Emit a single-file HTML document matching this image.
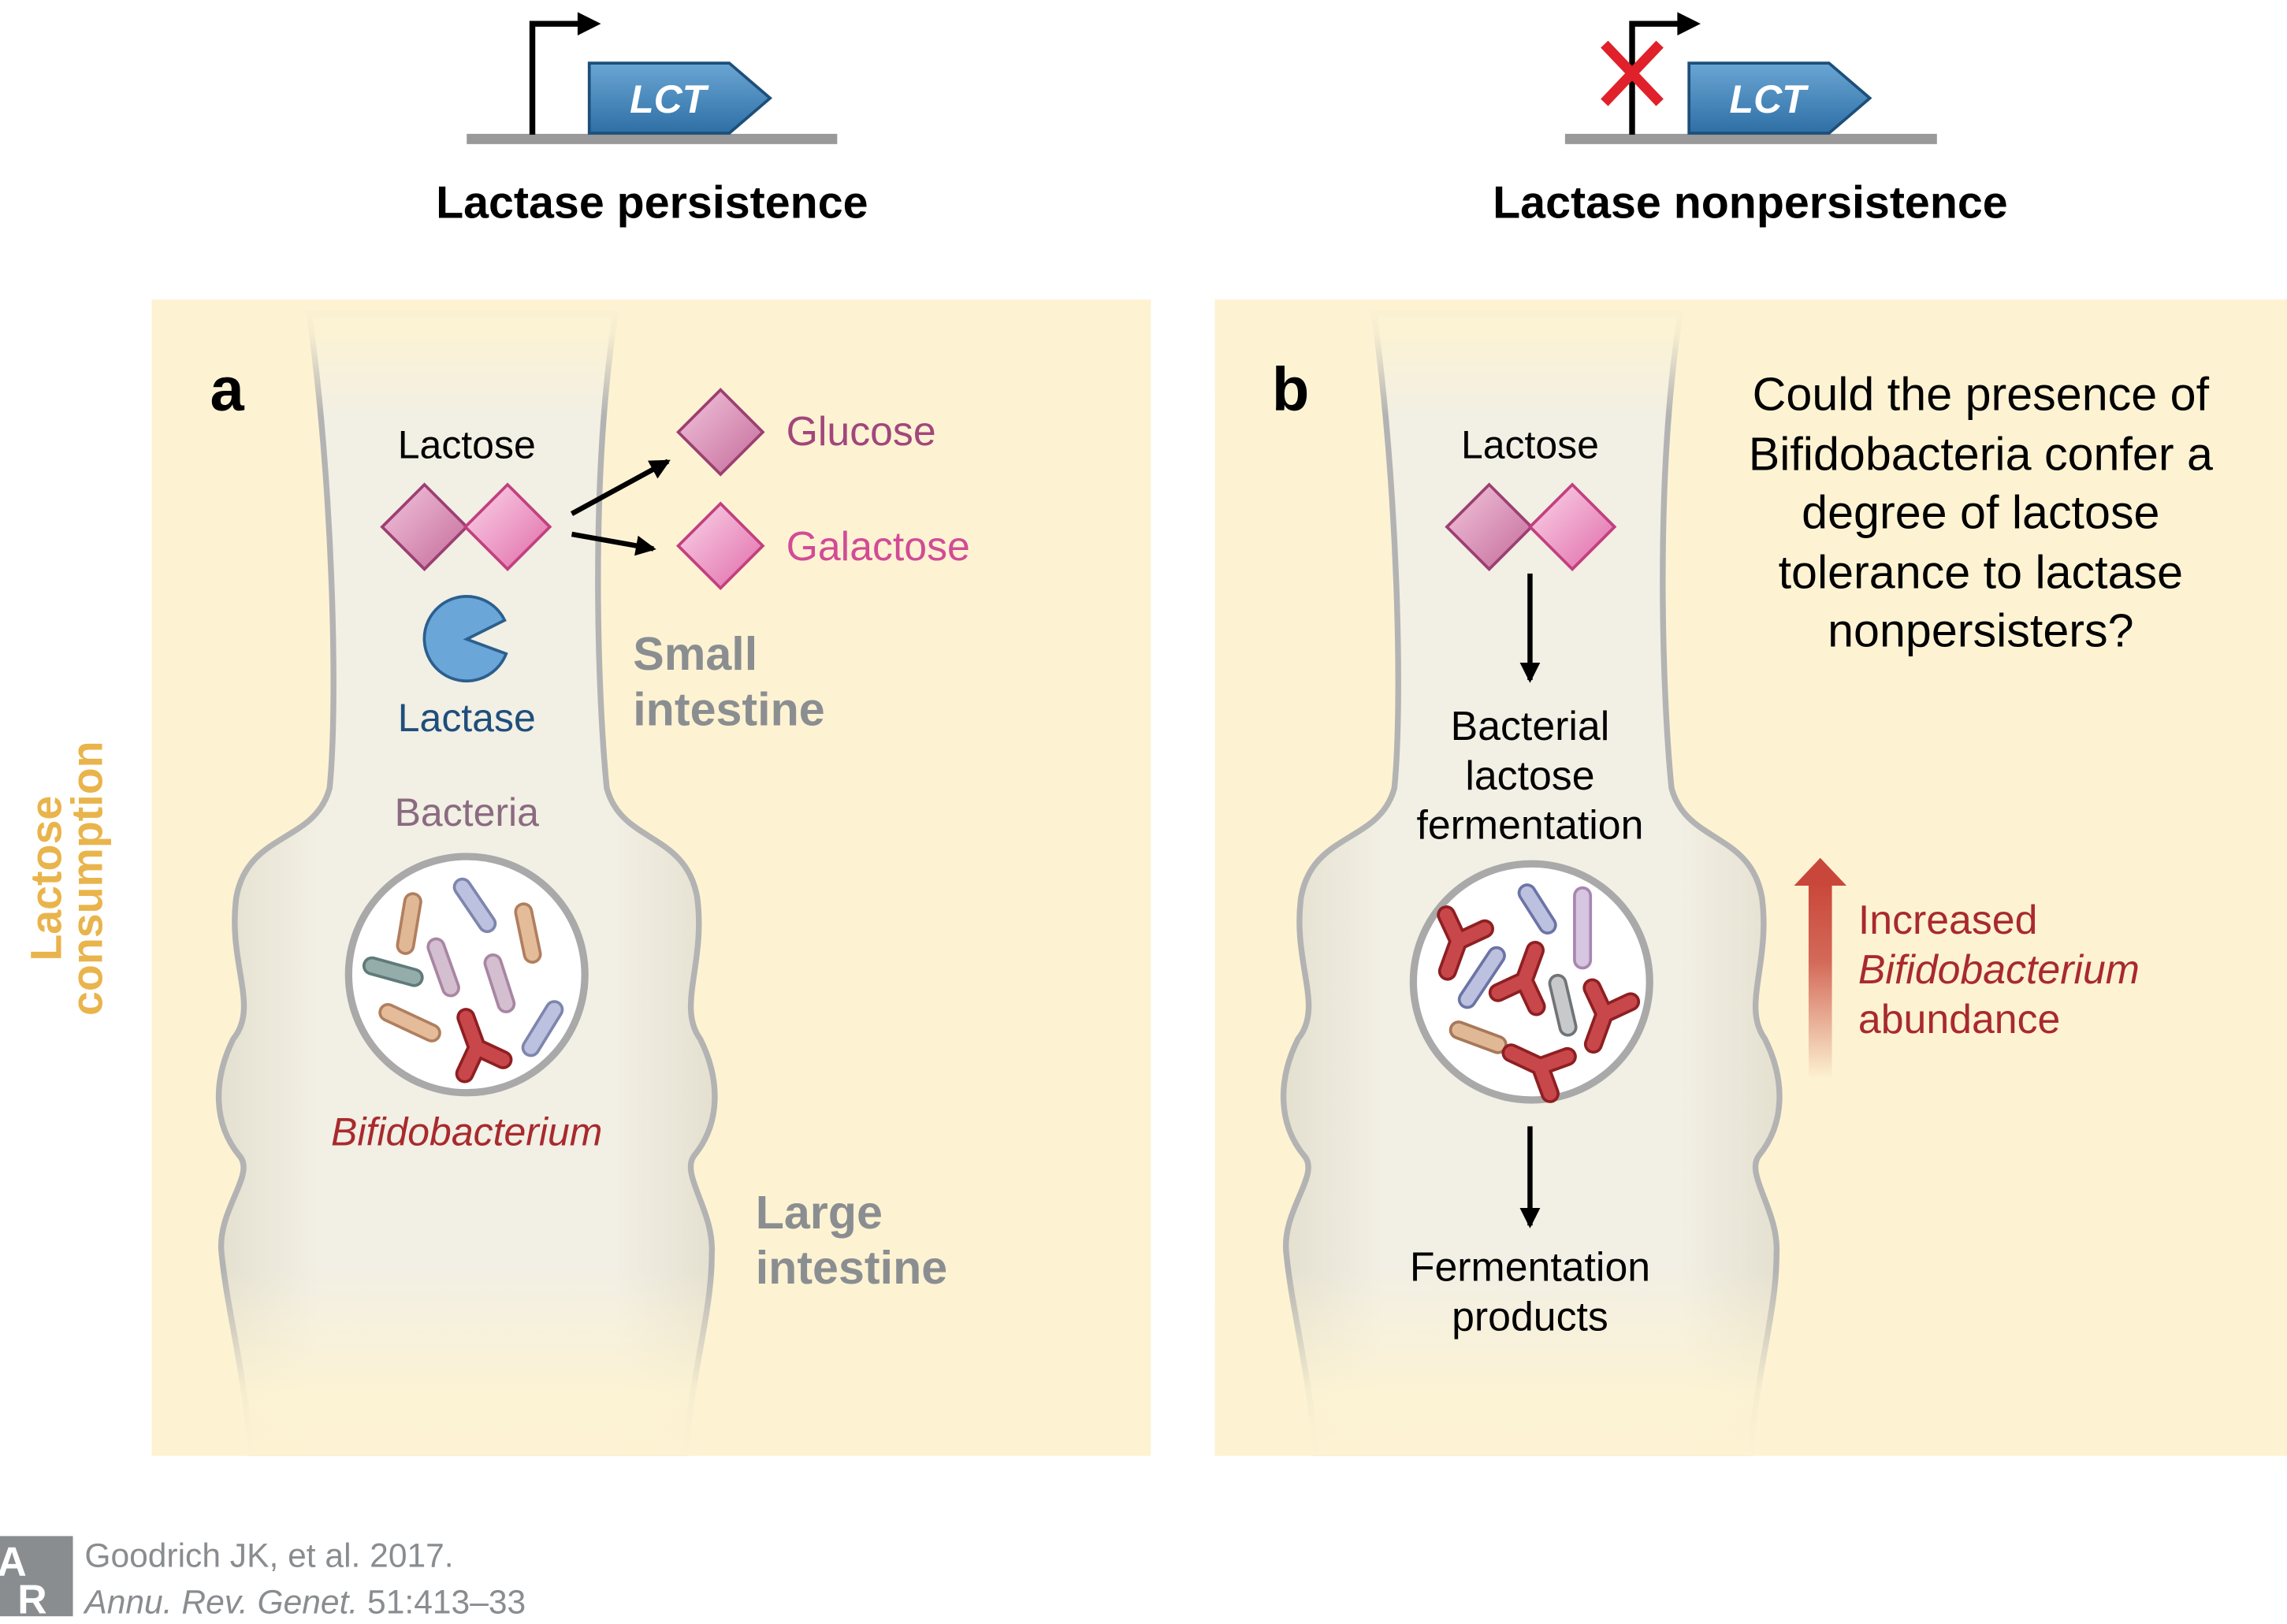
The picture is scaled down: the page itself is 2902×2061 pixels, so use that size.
<!DOCTYPE html>
<html><head><meta charset="utf-8"><style>
html,body{margin:0;padding:0;background:#fff;}
svg{display:block;}
text{font-family:"Liberation Sans",sans-serif;}
</style></head><body>
<svg width="2902" height="2061" viewBox="0 0 1568 1113" xmlns="http://www.w3.org/2000/svg">
<defs>
<linearGradient id="lct" x1="0" y1="0" x2="0" y2="1"><stop offset="0" stop-color="#6aa6d4"/><stop offset="1" stop-color="#2e6fa5"/></linearGradient>
<linearGradient id="red" x1="0" y1="1" x2="0" y2="0"><stop offset="0" stop-color="#c9473a" stop-opacity="0"/><stop offset="0.6" stop-color="#c9473a" stop-opacity="0.8"/><stop offset="1" stop-color="#c9473a"/></linearGradient>
<linearGradient id="tube" x1="0" y1="0" x2="1" y2="0"><stop offset="0" stop-color="#e4e0d0"/><stop offset="0.2" stop-color="#f2efe4"/><stop offset="0.8" stop-color="#f2efe4"/><stop offset="1" stop-color="#e4e0d0"/></linearGradient>
<linearGradient id="fade" x1="0" y1="0" x2="0" y2="1"><stop offset="0" stop-color="#fdf3d3" stop-opacity="1"/><stop offset="0.3" stop-color="#fdf3d3" stop-opacity="0.9"/><stop offset="1" stop-color="#fdf3d3" stop-opacity="0"/></linearGradient>
<linearGradient id="fadeb" x1="0" y1="1" x2="0" y2="0"><stop offset="0" stop-color="#fdf3d3" stop-opacity="1"/><stop offset="0.35" stop-color="#fdf3d3" stop-opacity="0.9"/><stop offset="1" stop-color="#fdf3d3" stop-opacity="0"/></linearGradient>
<linearGradient id="dia" x1="0" y1="0" x2="1" y2="1"><stop offset="0" stop-color="#f3c6dc"/><stop offset="1" stop-color="#c46a9a"/></linearGradient>
<linearGradient id="dia2" x1="0" y1="0" x2="1" y2="1"><stop offset="0" stop-color="#fbd6ea"/><stop offset="1" stop-color="#e06aa8"/></linearGradient>
<marker id="ah" markerWidth="16" markerHeight="16" refX="12" refY="7" orient="auto" markerUnits="userSpaceOnUse"><path d="M0,0 L14,7 L0,14 Z" fill="#000"/></marker>
<path id="gut" d="M212,215 C228,330 232,480 226,540 C216,578 170,570 162,615 C156,660 178,690 160,712 C146,740 146,770 164,792 C176,805 148,830 152,860 C156,900 168,940 172,1000 L470,1000 C474,940 488,900 488,860 C490,830 466,805 476,792 C494,770 494,740 480,712 C464,690 484,660 478,615 C470,570 426,578 416,540 C410,480 404,330 422,215 Z"/>
<g id="dm"><path d="M0,-29 L29,0 L0,29 L-29,0 Z" fill="url(#dia)" stroke="#9c3f72" stroke-width="2"/></g>
<g id="dm2"><path d="M0,-29 L29,0 L0,29 L-29,0 Z" fill="url(#dia2)" stroke="#c2407f" stroke-width="2"/></g>
<g id="yb"><path d="M0,0 L0,-22 M0,0 L-14,14 M0,0 L14,14" stroke="#8e1f22" stroke-width="13" stroke-linecap="round" fill="none"/><path d="M0,0 L0,-22 M0,0 L-14,14 M0,0 L14,14" stroke="#c8474a" stroke-width="9" stroke-linecap="round" fill="none"/></g>
<clipPath id="cpa"><rect x="104" y="205" width="685" height="793"/></clipPath>
<clipPath id="cpb"><rect x="833" y="205" width="735" height="793"/></clipPath>
</defs>

<line x1="320" y1="95" x2="574" y2="95" stroke="#999" stroke-width="7"/>
<path d="M365,92 L365,16 L398,16" stroke="#000" stroke-width="4" fill="none"/><path d="M396,8 L412,16 L396,24 Z" fill="#000"/>
<path d="M404,43 L500,43 L528,67 L500,91 L404,91 Z" fill="url(#lct)" stroke="#1d4f7a" stroke-width="2"/>
<text x="458" y="77" font-size="27" font-weight="bold" font-style="italic" fill="#fff" text-anchor="middle">LCT</text>
<text x="447" y="149" font-size="31" font-weight="bold" text-anchor="middle">Lactase persistence</text>

<line x1="1073" y1="95" x2="1328" y2="95" stroke="#999" stroke-width="7"/>
<path d="M1119,92 L1119,16 L1152,16" stroke="#000" stroke-width="4" fill="none"/><path d="M1150,8 L1166,16 L1150,24 Z" fill="#000"/>
<path d="M1158,43 L1254,43 L1282,67 L1254,91 L1158,91 Z" fill="url(#lct)" stroke="#1d4f7a" stroke-width="2"/>
<text x="1212" y="77" font-size="27" font-weight="bold" font-style="italic" fill="#fff" text-anchor="middle">LCT</text>
<path d="M1100,30 L1138,70 M1138,30 L1100,70" stroke="#e0202a" stroke-width="7"/>
<text x="1200" y="149" font-size="31" font-weight="bold" text-anchor="middle">Lactase nonpersistence</text>

<rect x="104" y="205" width="685" height="793" fill="#fdf3d3"/>
<rect x="833" y="205" width="735" height="793" fill="#fdf3d3"/>

<text transform="translate(42,602) rotate(-90)" font-size="30" font-weight="bold" fill="#e9b44c" text-anchor="middle">Lactose</text>
<text transform="translate(70,602) rotate(-90)" font-size="30" font-weight="bold" fill="#e9b44c" text-anchor="middle">consumption</text>

<g clip-path="url(#cpa)"><use href="#gut" fill="url(#tube)" stroke="#b3b3b3" stroke-width="4"/></g>
<g clip-path="url(#cpb)"><use href="#gut" transform="translate(730,0)" fill="url(#tube)" stroke="#b3b3b3" stroke-width="4"/></g>
<rect x="104" y="870" width="685" height="128" fill="url(#fadeb)"/>
<rect x="833" y="870" width="735" height="128" fill="url(#fadeb)"/>
<rect x="104" y="205" width="685" height="80" fill="url(#fade)"/>
<rect x="833" y="205" width="735" height="80" fill="url(#fade)"/>

<text x="144" y="281" font-size="42" font-weight="bold">a</text>
<text x="872" y="281" font-size="42" font-weight="bold">b</text>

<text x="320" y="314" font-size="27" text-anchor="middle">Lactose</text>
<use href="#dm" x="291" y="361"/><use href="#dm2" x="348" y="361"/>
<line x1="392" y1="352" x2="458" y2="316" stroke="#000" stroke-width="3.5" marker-end="url(#ah)"/>
<line x1="392" y1="366" x2="448" y2="376" stroke="#000" stroke-width="3.5" marker-end="url(#ah)"/>
<use href="#dm" x="494" y="296"/><use href="#dm2" x="494" y="374"/>
<text x="539" y="305" font-size="28" fill="#a2467c">Glucose</text>
<text x="539" y="384" font-size="28" fill="#d24b96">Galactose</text>
<path d="M320,438 L346,425 A29,29 0 1 0 347,448 Z" fill="#6aa6d8" stroke="#2b5f8e" stroke-width="2"/>
<text x="320" y="501" font-size="27" fill="#1e4e7c" text-anchor="middle">Lactase</text>
<text x="434" y="459" font-size="32" font-weight="bold" fill="#8b8e91">Small</text>
<text x="434" y="497" font-size="32" font-weight="bold" fill="#8b8e91">intestine</text>
<text x="320" y="566" font-size="27" fill="#8a6b80" text-anchor="middle">Bacteria</text>
<circle cx="320" cy="668" r="81" fill="#fff" stroke="#a9a9a9" stroke-width="5"/>
<g stroke-linecap="round">
<line x1="283" y1="618" x2="278" y2="648" stroke="#b07f5f" stroke-width="13"/><line x1="283" y1="618" x2="278" y2="648" stroke="#e1b896" stroke-width="9"/>
<line x1="317" y1="608" x2="334" y2="633" stroke="#7e86ad" stroke-width="13"/><line x1="317" y1="608" x2="334" y2="633" stroke="#bcc1df" stroke-width="9"/>
<line x1="359" y1="625" x2="365" y2="654" stroke="#b07f5f" stroke-width="13"/><line x1="359" y1="625" x2="365" y2="654" stroke="#e4bc99" stroke-width="9"/>
<line x1="255" y1="662" x2="284" y2="670" stroke="#5f7b79" stroke-width="13"/><line x1="255" y1="662" x2="284" y2="670" stroke="#94acaa" stroke-width="9"/>
<line x1="299" y1="649" x2="309" y2="677" stroke="#a886a2" stroke-width="13"/><line x1="299" y1="649" x2="309" y2="677" stroke="#d4bfd0" stroke-width="9"/>
<line x1="338" y1="660" x2="347" y2="688" stroke="#a886a2" stroke-width="13"/><line x1="338" y1="660" x2="347" y2="688" stroke="#d4bfd0" stroke-width="9"/>
<line x1="266" y1="694" x2="296" y2="708" stroke="#b07f5f" stroke-width="13"/><line x1="266" y1="694" x2="296" y2="708" stroke="#e4bc99" stroke-width="9"/>
<line x1="380" y1="692" x2="364" y2="718" stroke="#7e86ad" stroke-width="13"/><line x1="380" y1="692" x2="364" y2="718" stroke="#bcc1df" stroke-width="9"/>
</g>
<use href="#yb" transform="translate(327,718) rotate(-20)"/>
<text x="320" y="785" font-size="27" font-style="italic" fill="#a82a2e" text-anchor="middle">Bifidobacterium</text>
<text x="518" y="842" font-size="32" font-weight="bold" fill="#8b8e91">Large</text>
<text x="518" y="880" font-size="32" font-weight="bold" fill="#8b8e91">intestine</text>

<text x="1049" y="314" font-size="27" text-anchor="middle">Lactose</text>
<use href="#dm" x="1021" y="361"/><use href="#dm2" x="1078" y="361"/>
<line x1="1049" y1="393" x2="1049" y2="466" stroke="#000" stroke-width="3.5" marker-end="url(#ah)"/>
<text x="1049" y="507" font-size="28" text-anchor="middle">Bacterial</text>
<text x="1049" y="541" font-size="28" text-anchor="middle">lactose</text>
<text x="1049" y="575" font-size="28" text-anchor="middle">fermentation</text>
<circle cx="1050" cy="673" r="81" fill="#fff" stroke="#a9a9a9" stroke-width="5"/>
<g stroke-linecap="round">
<line x1="1047" y1="612" x2="1061" y2="634" stroke="#6c74a6" stroke-width="13"/><line x1="1047" y1="612" x2="1061" y2="634" stroke="#bcc1df" stroke-width="9"/>
<line x1="1085" y1="614" x2="1085" y2="658" stroke="#a886b2" stroke-width="13"/><line x1="1085" y1="614" x2="1085" y2="658" stroke="#d6c6df" stroke-width="9"/>
<line x1="1026" y1="655" x2="1006" y2="685" stroke="#6c74a6" stroke-width="13"/><line x1="1026" y1="655" x2="1006" y2="685" stroke="#bcc1df" stroke-width="9"/>
<line x1="1068" y1="674" x2="1075" y2="704" stroke="#707478" stroke-width="13"/><line x1="1068" y1="674" x2="1075" y2="704" stroke="#c7c9cb" stroke-width="9"/>
<line x1="1000" y1="706" x2="1027" y2="716" stroke="#a77859" stroke-width="13"/><line x1="1000" y1="706" x2="1027" y2="716" stroke="#e1b896" stroke-width="9"/>
</g>
<use href="#yb" transform="translate(1000,645) rotate(200)"/>
<use href="#yb" transform="translate(1045,672) rotate(20)"/>
<use href="#yb" transform="translate(1100,695) rotate(200)"/>
<use href="#yb" transform="translate(1056,731) rotate(-65)"/>
<line x1="1049" y1="772" x2="1049" y2="840" stroke="#000" stroke-width="3.5" marker-end="url(#ah)"/>
<text x="1049" y="878" font-size="28" text-anchor="middle">Fermentation</text>
<text x="1049" y="912" font-size="28" text-anchor="middle">products</text>

<g font-size="32" text-anchor="middle">
<text x="1358" y="281">Could the presence of</text>
<text x="1358" y="322">Bifidobacteria confer a</text>
<text x="1358" y="362">degree of lactose</text>
<text x="1358" y="403">tolerance to lactase</text>
<text x="1358" y="443">nonpersisters?</text>
</g>
<rect x="1240" y="605" width="16" height="135" fill="url(#red)"/>
<path d="M1230,607 L1248,588 L1266,607 Z" fill="#c9473a"/>
<text x="1274" y="640" font-size="28" fill="#a82a2e">Increased</text>
<text x="1274" y="674" font-size="28" font-style="italic" fill="#a82a2e">Bifidobacterium</text>
<text x="1274" y="708" font-size="28" fill="#a82a2e">abundance</text>

<rect x="0" y="1053" width="50" height="55" fill="#8a8d90"/>
<text x="-2" y="1080" font-size="28" font-weight="bold" fill="#fff">A</text>
<text x="12" y="1106" font-size="28" font-weight="bold" fill="#fff">R</text>
<text x="58" y="1074" font-size="23" fill="#8a8d90">Goodrich JK, et al. 2017.</text>
<text x="58" y="1106" font-size="23" fill="#8a8d90"><tspan font-style="italic">Annu. Rev. Genet.</tspan> 51:413–33</text>
</svg>
</body></html>
